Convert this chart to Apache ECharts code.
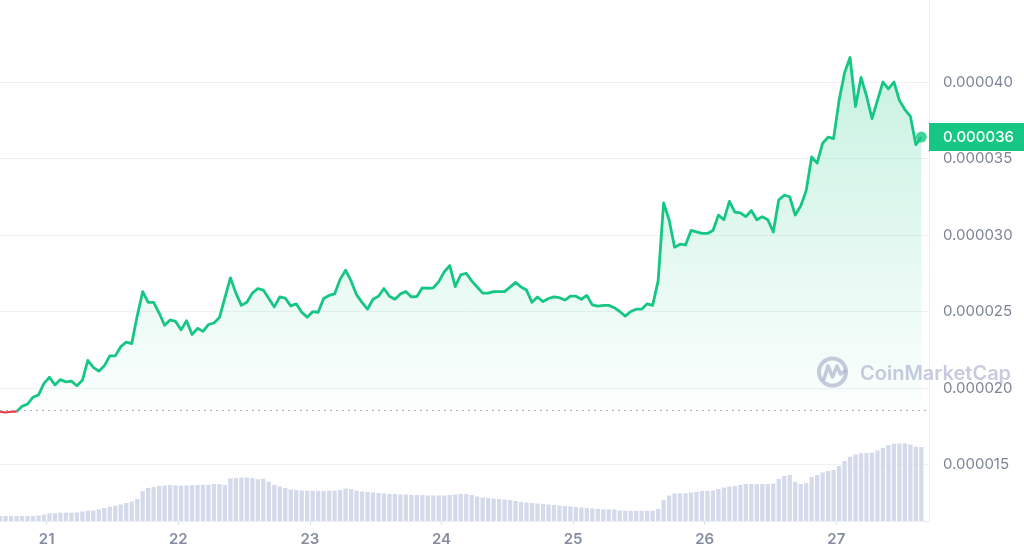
<!DOCTYPE html>
<html>
<head>
<meta charset="utf-8">
<script src="https://cdn.jsdelivr.net/npm/echarts@6/dist/echarts.min.js"></script>
<style>
  html, body { margin: 0; padding: 0; background: #fff; }
  #chart { width: 1024px; height: 558px; }
</style>
</head>
<body>
<div id="chart"></div>
<script>
// Hours are counted from day 21, 00:00. One sample per hour.
const startHour = -8.5;
const axisStartHour = -8.52;
const axisEndHour = 160.9;
const dayTickHours = [0, 24, 48, 72, 96, 120, 144];
const dayTickLabels = ['21', '22', '23', '24', '25', '26', '27'];
const priceTicks = [15, 20, 25, 30, 35, 40, 45]; // in 1e-6 USD
const openPrice = 18.55; // reference (dotted) line, 1e-6 USD

// Price, in 1e-6 USD
const prices = [
  18.45,18.40,18.45,18.45,18.80,18.95,19.40,19.55,20.30,20.70,
  20.20,20.55,20.40,20.45,20.15,20.50,21.80,21.35,21.10,21.45,
  22.10,22.10,22.70,23.00,22.90,24.70,26.30,25.60,25.60,24.90,
  24.10,24.45,24.35,23.80,24.40,23.50,23.90,23.70,24.15,24.25,
  24.60,25.90,27.20,26.20,25.40,25.60,26.20,26.50,26.40,25.85,
  25.30,25.95,25.87,25.37,25.50,24.95,24.63,24.99,24.95,25.85,
  26.05,26.15,27.10,27.70,27.00,26.10,25.60,25.15,25.80,26.00,
  26.50,26.00,25.80,26.15,26.30,25.95,25.98,26.55,26.52,26.55,
  26.95,27.60,28.00,26.63,27.40,27.50,27.00,26.60,26.20,26.20,
  26.30,26.30,26.30,26.59,26.90,26.60,26.40,25.60,25.95,25.65,
  25.85,25.95,25.90,25.75,26.00,26.00,25.80,26.05,25.43,25.35,
  25.40,25.40,25.25,25.00,24.70,25.00,25.15,25.15,25.50,25.40,
  27.00,32.10,31.00,29.20,29.40,29.35,30.30,30.20,30.10,30.10,
  30.30,31.30,31.00,32.20,31.50,31.45,31.20,31.60,31.00,31.20,
  31.00,30.20,32.30,32.60,32.50,31.30,31.90,32.90,35.10,34.70,
  36.00,36.40,36.30,38.80,40.60,41.60,38.40,40.30,39.10,37.60,
  38.80,40.00,39.55,40.00,38.80,38.20,37.76,35.90,36.40
];

// Volume, relative units
const volumes = [
  5,5,5,5,5,5,5,5.5,6.5,7.7,
  7.7,8.3,8.3,8.3,8.5,9.5,10.3,10.5,11.7,13,
  14.3,15.2,16.5,18,19.5,22,30,33,34,35,
  35.5,36,35.7,35.3,35.5,35.7,36,36.2,36.3,37,
  36.8,36,42.5,43,43.3,43.5,43,41.7,42.3,39.3,
  36,34.5,33,31.5,31,30.5,30.3,30.2,30,30,
  30.2,30.3,31,32.5,32,30.5,29.5,29,28.5,28,
  27.5,27,27,26.5,26.5,26,26,26,25.5,25.5,
  25.5,25.5,26,26.5,27,27,26,24.5,23.5,23,
  22.5,22,21.5,21,20,19,18.5,18,17.5,17,
  16.5,16,15.5,15,14.5,14,13.5,13,12.5,12,
  11.7,11.7,11.5,10.5,10.3,10.3,10.3,10.3,10.3,10.3,
  12,21,25.5,27.5,27.7,27.7,28.5,29.3,30,30,
  30.5,32,33.5,34.5,35,36,37,37,37,37,
  37,37.5,42,45,46,39,37,38,44,46,
  48.5,50,51,55,60,64.3,66.5,67.7,68,68.5,
  70.5,73,76,77.3,77.5,77.7,76.5,74.3,74
];
const volumeAxisMax = 521;

const priceData = prices.map((p, i) => [startHour + i, p]);
const volumeData = volumes.map((v, i) => [startHour + i, v]);
const lastPoint = priceData[priceData.length - 1];
const firstAbove = prices.findIndex(p => p >= openPrice);
const redData = priceData.slice(0, firstAbove);
const greenData = priceData.slice(firstAbove - 1);
const fmtPrice = v => (v / 1e6).toFixed(6);

const GREEN = '#16c784';
const RED = '#ea3943';
const WM = 'rgba(160,168,200,0.6)';

const chart = echarts.init(document.getElementById('chart'), null, { renderer: 'canvas' });
chart.setOption({
  animation: false,
  backgroundColor: '#ffffff',
  textStyle: { fontFamily: 'Inter' },
  grid: [
    { left: 0, right: 95, top: 5.5, bottom: 93.5 },
    { left: 0, right: 95, top: 0, bottom: 37 }
  ],
  xAxis: [
    { type: 'value', gridIndex: 0, min: axisStartHour, max: axisEndHour, show: false },
    {
      type: 'value', gridIndex: 1, min: axisStartHour, max: axisEndHour,
      axisLine: { show: true, onZero: false, lineStyle: { color: '#eceff4' } },
      axisTick: { show: true, customValues: dayTickHours, length: 4, lineStyle: { color: '#dfe3ea' } },
      axisLabel: {
        customValues: dayTickHours,
        formatter: v => dayTickLabels[dayTickHours.indexOf(v)],
        color: '#858ca2', fontSize: 15, fontWeight: 600, margin: 11, fontFamily: 'Inter'
      },
      splitLine: { show: false }
    }
  ],
  yAxis: [
    {
      type: 'value', gridIndex: 0, position: 'right',
      min: priceTicks[0], max: priceTicks[priceTicks.length - 1], interval: 5,
      axisLine: { show: false, onZero: false }, axisTick: { show: false },
      axisLabel: { showMaxLabel: false, margin: 14, color: '#7d8599', fontSize: 15, fontFamily: 'Inter', formatter: fmtPrice },
      splitLine: { show: true, showMaxLine: false, lineStyle: { color: '#eff2f5', width: 1 } }
    },
    {
      type: 'value', gridIndex: 1, position: 'right', min: 0, max: volumeAxisMax,
      axisLine: { show: true, onZero: false, lineStyle: { color: '#eceff4' } },
      axisTick: { show: false }, axisLabel: { show: false }, splitLine: { show: false }
    }
  ],
  series: [
    {
      type: 'line', xAxisIndex: 0, yAxisIndex: 0, data: greenData,
      showSymbol: false, z: 4,
      lineStyle: { width: 2.8, color: GREEN, join: 'round' },
      itemStyle: { color: GREEN },
      areaStyle: {
        origin: openPrice,
        color: new echarts.graphic.LinearGradient(0, 0, 0, 1, [
          { offset: 0, color: 'rgba(22,199,132,0.34)' },
          { offset: 1, color: 'rgba(22,199,132,0.02)' }
        ])
      },
      markLine: {
        silent: true, symbol: ['none', 'none'], label: { show: false },
        lineStyle: { type: [2, 4], color: '#a8aec2', width: 1 },
        data: [{ yAxis: openPrice }]
      }
    },
    {
      type: 'line', xAxisIndex: 0, yAxisIndex: 0, data: redData,
      showSymbol: false, z: 4,
      lineStyle: { width: 2.2, color: RED }, itemStyle: { color: RED }
    },
    {
      type: 'scatter', xAxisIndex: 0, yAxisIndex: 0, data: [lastPoint],
      symbolSize: 11, itemStyle: { color: GREEN }, z: 6, silent: true
    },
    {
      type: 'bar', xAxisIndex: 1, yAxisIndex: 1, data: volumeData,
      barWidth: 4.3, itemStyle: { color: '#d5daea' }, z: 1, silent: true
    }
  ],
  graphic: [
    { type: 'circle', shape: { cx: 832.5, cy: 372, r: 13.5 }, style: { fill: 'none', stroke: WM, lineWidth: 4 }, z: 10, silent: true },
    { type: 'polyline', shape: { points: [[824, 379], [828, 366], [832.5, 377], [837, 366], [840.5, 374], [845, 371]] },
      style: { fill: 'none', stroke: WM, lineWidth: 3.5, lineJoin: 'round', lineCap: 'round' }, z: 10, silent: true },
    { type: 'text', x: 860, y: 374, style: { text: 'CoinMarketCap', fontSize: 20, fontWeight: 600, fontFamily: 'Inter', fill: WM, verticalAlign: 'middle' }, z: 10, silent: true }
  ]
});

// Current-price tag on the price axis, placed through the chart's own scale.
const lastPx = chart.convertToPixel({ xAxisIndex: 0, yAxisIndex: 0 }, lastPoint);
const gridRight = chart.getWidth() - 95;
chart.setOption({
  graphic: [
    { id: 'priceTagBox', type: 'rect', shape: { x: gridRight, y: lastPx[1] - 14, width: chart.getWidth() - gridRight, height: 28 },
      style: { fill: GREEN }, z: 20, silent: true },
    { id: 'priceTagText', type: 'text', x: gridRight + 14, y: lastPx[1],
      style: { text: fmtPrice(lastPoint[1]), fontSize: 15, fontWeight: 500, fontFamily: 'Inter', fill: '#ffffff', verticalAlign: 'middle' }, z: 21, silent: true }
  ]
});
</script>
</body>
</html>
